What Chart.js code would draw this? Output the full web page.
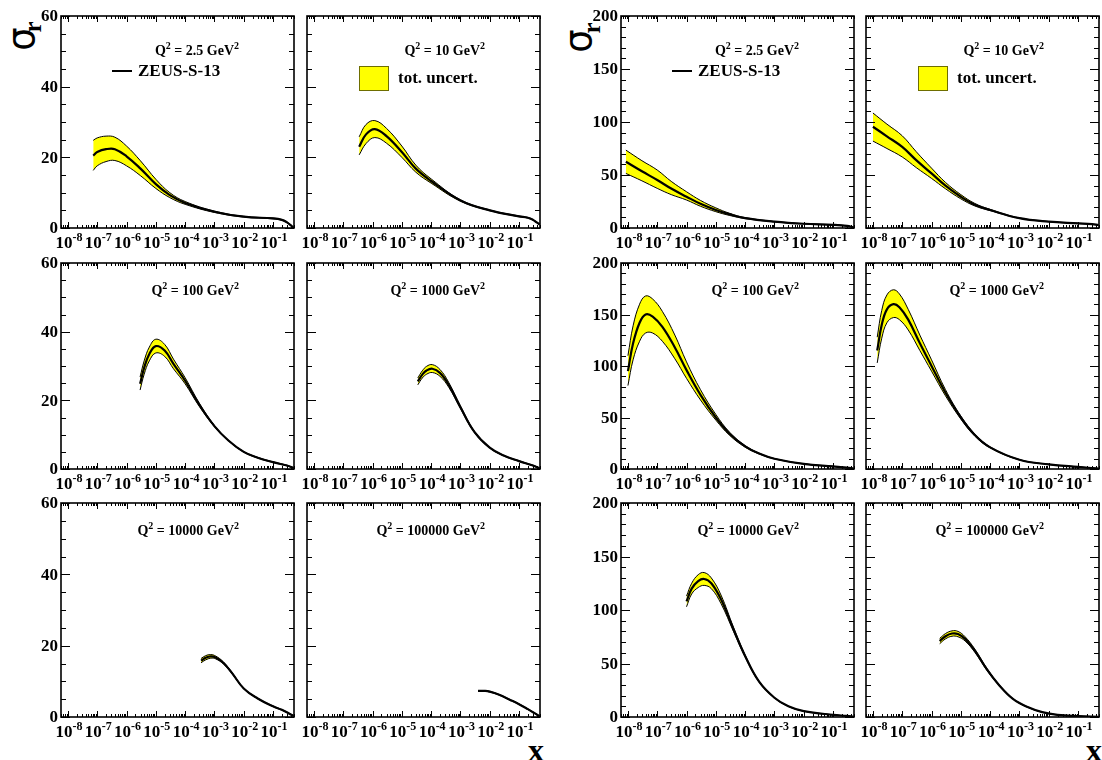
<!DOCTYPE html>
<html>
<head>
<meta charset="utf-8">
<title>sigma_r vs x</title>
<script src="https://cdn.jsdelivr.net/npm/chart.js@4.4.1/dist/chart.umd.min.js"></script>
<style>
  html, body { margin: 0; padding: 0; background: #fff; }
  #page { position: relative; width: 1102px; height: 760px; overflow: hidden; font-family: "Liberation Serif", "Times New Roman", serif; }
  #page canvas { position: absolute; }
  .sig { position: absolute; width: 40px; height: 40px; line-height: 40px; text-align: center;
         font-family: "DejaVu Sans", sans-serif; font-size: 37px; transform: rotate(-90deg); }
  .sub { position: absolute; width: 20px; height: 20px; line-height: 20px; text-align: center;
         font-family: "Liberation Serif", serif; font-weight: bold; font-size: 25px; transform: rotate(-90deg); }
  .xtitle { position: absolute; font-weight: bold; font-size: 32px; line-height: 32px; }
</style>
</head>
<body>
<div id="page">
  <div class="sig" style="left:2px;top:19px">σ</div>
  <div class="sub" style="left:23px;top:17px">r</div>
  <div class="sig" style="left:559px;top:21px">σ</div>
  <div class="sub" style="left:582px;top:18px">r</div>
  <div class="xtitle" style="left:528px;top:734px">x</div>
  <div class="xtitle" style="left:1086px;top:734px">x</div>
</div>
<script>
// axis labels
const xLabelPowers = [-8, -7, -6, -5, -4, -3, -2, -1];
const yTicksLeft = [0, 20, 40, 60];
const yTicksRight = [0, 50, 100, 150, 200];
const q2Values = ['2.5', '10', '100', '1000', '10000', '100000'];

// ---- left group (sigma_r up to 60) ----
// Q2 = 2.5
const xL1 = [7.3e-8, 1e-7, 2e-7, 4e-7, 1e-6, 3e-6, 1e-5, 3e-5, 1e-4, 1e-3, 1e-2, 0.1, 0.2, 0.3, 0.4, 0.5];
const cL1 = [20.5, 21.5, 22.3, 22.3, 20.3, 16.8, 12.4, 9.3, 7.1, 4.6, 3.2, 2.7, 2.3, 1.6, 0.8, 0.1];
const uL1 = [24.8, 25.5, 26.0, 25.7, 23.2, 19.0, 13.8, 10.0, 7.5, 4.8, 3.3, 2.8, 2.4, 1.7, 0.9, 0.2];
const lL1 = [16.3, 17.6, 18.8, 19.1, 17.6, 14.8, 11.2, 8.6, 6.7, 4.4, 3.1, 2.6, 2.2, 1.5, 0.7, 0.05];
// Q2 = 10
const xL2 = [3.5e-7, 6e-7, 1.2e-6, 3e-6, 1e-5, 3e-5, 1e-4, 1e-3, 1e-2, 0.1, 0.2, 0.3, 0.4, 0.5];
const cL2 = [23.0, 26.5, 28.0, 26.0, 21.5, 16.8, 13.3, 7.8, 5.0, 3.3, 2.9, 2.3, 1.6, 1.0];
const uL2 = [25.8, 29.3, 30.4, 28.2, 23.2, 17.8, 13.9, 8.0, 5.1, 3.4, 3.0, 2.4, 1.7, 1.1];
const lL2 = [20.7, 23.9, 25.6, 24.0, 20.0, 15.8, 12.7, 7.6, 4.9, 3.2, 2.8, 2.2, 1.5, 0.9];
// Q2 = 100
const xL3 = [2.9e-6, 4e-6, 6e-6, 1e-5, 2e-5, 4e-5, 1e-4, 3e-4, 1e-3, 3e-3, 1e-2, 3e-2, 0.1, 0.3, 0.5];
const cL3 = [24.8, 29.5, 33.5, 35.8, 34.5, 30.6, 25.7, 18.8, 12.5, 8.3, 5.0, 3.3, 2.0, 1.0, 0.3];
const uL3 = [26.8, 31.5, 35.5, 37.8, 36.3, 32.0, 26.6, 19.3, 12.7, 8.4, 5.1, 3.4, 2.1, 1.1, 0.4];
const lL3 = [23.0, 27.6, 31.5, 33.8, 32.8, 29.2, 24.8, 18.3, 12.3, 8.2, 4.9, 3.2, 1.9, 0.9, 0.2];
// Q2 = 1000
const xL4 = [3.5e-5, 5e-5, 7e-5, 1.1e-4, 2e-4, 4e-4, 1e-3, 3e-3, 1e-2, 3e-2, 0.1, 0.3, 0.5];
const cL4 = [25.5, 27.5, 28.7, 29.2, 28.0, 24.5, 18.0, 10.8, 6.2, 3.9, 2.3, 1.0, 0.2];
const uL4 = [26.5, 28.6, 29.9, 30.4, 29.0, 25.2, 18.4, 11.0, 6.3, 4.0, 2.4, 1.1, 0.3];
const lL4 = [24.5, 26.5, 27.6, 28.1, 27.0, 23.8, 17.6, 10.6, 6.1, 3.8, 2.2, 0.9, 0.1];
// Q2 = 10000
const xL5 = [3.5e-4, 5e-4, 7.5e-4, 1.1e-3, 2e-3, 4e-3, 1e-2, 3e-2, 0.1, 0.2, 0.35, 0.5];
const cL5 = [15.8, 16.6, 17.0, 16.7, 15.2, 12.3, 8.0, 5.2, 3.0, 2.0, 1.0, 0.3];
const uL5 = [16.4, 17.2, 17.5, 17.1, 15.5, 12.5, 8.1, 5.3, 3.1, 2.1, 1.1, 0.4];
const lL5 = [15.2, 16.0, 16.5, 16.3, 14.9, 12.1, 7.9, 5.1, 2.9, 1.9, 0.9, 0.2];
// Q2 = 100000
const xL6 = [4e-3, 7e-3, 1e-2, 2e-2, 5e-2, 0.1, 0.2, 0.35, 0.5];
const cL6 = [7.3, 7.3, 7.1, 6.3, 4.8, 3.6, 2.2, 1.0, 0.2];
const uL6 = [7.4, 7.4, 7.2, 6.4, 4.9, 3.7, 2.3, 1.1, 0.3];
const lL6 = [7.2, 7.2, 7.0, 6.2, 4.7, 3.5, 2.1, 0.9, 0.1];

// ---- right group (sigma_r up to 200) ----
// Q2 = 2.5
const xR1 = [8.5e-9, 3e-8, 1e-7, 3e-7, 1e-6, 3e-6, 1e-5, 3e-5, 1e-4, 1e-3, 1e-2, 0.1, 0.3, 0.5];
const cR1 = [62.5, 53.5, 45.3, 37.2, 29.5, 22.8, 17.0, 12.8, 9.3, 6.0, 4.0, 3.0, 2.0, 0.6];
const uR1 = [73.5, 63.5, 54.7, 44.0, 34.2, 26.0, 19.0, 13.8, 9.8, 6.2, 4.1, 3.1, 2.1, 0.7];
const lR1 = [51.5, 44.5, 37.4, 31.5, 26.4, 20.5, 15.4, 11.8, 8.9, 5.8, 3.9, 2.9, 1.9, 0.5];
// Q2 = 10
const xR2 = [1e-8, 3e-8, 1e-7, 3e-7, 1e-6, 3e-6, 1e-5, 3e-5, 1e-4, 1e-3, 1e-2, 0.1, 0.3, 0.5];
const cR2 = [95.5, 86.5, 76.5, 64.0, 51.5, 40.0, 29.5, 22.0, 17.0, 9.3, 6.0, 4.4, 3.6, 2.8];
const uR2 = [108.5, 98.0, 87.0, 72.0, 56.5, 43.0, 31.5, 23.2, 17.6, 9.5, 6.1, 4.5, 3.7, 2.9];
const lR2 = [82.0, 75.0, 67.0, 57.0, 46.8, 37.0, 27.5, 20.8, 16.4, 9.1, 5.9, 4.3, 3.5, 2.7];
// Q2 = 100
const xR3 = [1e-8, 1.5e-8, 2.5e-8, 4e-8, 7e-8, 1.5e-7, 4e-7, 1e-6, 3e-6, 1e-5, 3e-5, 1e-4, 3e-4, 1e-3, 1e-2, 0.1, 0.3, 0.5];
const cR3 = [95, 122, 142, 150, 148, 138, 118, 96, 72, 50, 34, 22, 15, 10, 5, 2.5, 1.3, 0.5];
const uR3 = [110, 139, 160, 168, 165, 153, 130, 104, 77, 53, 35.5, 22.8, 15.4, 10.2, 5.1, 2.6, 1.4, 0.6];
const lR3 = [81, 106, 124, 132, 132, 124, 107, 88, 67, 47.5, 32.5, 21.2, 14.6, 9.8, 4.9, 2.4, 1.2, 0.4];
// Q2 = 1000
const xR4 = [1.4e-8, 2e-8, 3e-8, 5e-8, 8e-8, 1.6e-7, 4e-7, 1e-6, 3e-6, 1e-5, 3e-5, 1e-4, 1e-3, 1e-2, 0.1, 0.5];
const cR4 = [115, 140, 155, 160, 157, 145, 122, 100, 74, 50, 33, 21, 9, 4.5, 2, 0.5];
const uR4 = [128, 154, 169, 174, 170, 155, 130, 106, 77, 51.5, 34, 21.5, 9.2, 4.6, 2.1, 0.6];
const lR4 = [103, 127, 142, 147, 145, 135, 115, 95, 71, 48.5, 32, 20.5, 8.8, 4.4, 1.9, 0.4];
// Q2 = 10000
const xR5 = [1e-6, 1.5e-6, 2.5e-6, 4e-6, 7e-6, 1.5e-5, 4e-5, 1e-4, 3e-4, 1e-3, 3e-3, 1e-2, 0.1, 0.3, 0.5];
const cR5 = [108, 120, 127, 129, 125, 110, 82, 57, 33, 18, 10, 5.5, 2, 1, 0.3];
const uR5 = [113, 125, 133, 135, 130, 114, 84, 58, 33.5, 18.3, 10.2, 5.6, 2.1, 1.1, 0.4];
const lR5 = [103, 115, 121, 123, 120, 106, 80, 56, 32.5, 17.7, 9.8, 5.4, 1.9, 0.9, 0.2];
// Q2 = 100000
const xR6 = [1.9e-6, 3e-6, 5e-6, 8e-6, 1.4e-5, 3e-5, 8e-5, 2e-4, 6e-4, 2e-3, 6e-3, 2e-2, 0.1, 0.5];
const cR6 = [71, 75.5, 78, 77.5, 73, 62, 44, 30, 17, 9, 4.5, 2, 0.8, 0.2];
const uR6 = [73.5, 78, 80.5, 80, 75, 63.5, 45, 30.5, 17.3, 9.2, 4.6, 2.1, 0.9, 0.3];
const lR6 = [68.5, 73, 75.5, 75, 71, 60.5, 43, 29.5, 16.7, 8.8, 4.4, 1.9, 0.7, 0.1];

// layout of the plot frames (pixels)
const colLeft = [61, 307, 621, 866];
const rowTop = [16, 263, 503];
const rowHeight = [212, 206, 214];
const plotWidth = 233;
const q2Offset = [34, 27, 27];
const pad = { left: 48, right: 12, top: 10, bottom: 40 };
const X_MIN = 5.8e-9, X_MAX = 0.52;

const panels = [
    { col: 0, row: 0, q2: q2Values[0], x: xL1, c: cL1, u: uL1, l: lL1, legend: 'line' },
    { col: 1, row: 0, q2: q2Values[1], x: xL2, c: cL2, u: uL2, l: lL2, legend: 'box' },
    { col: 0, row: 1, q2: q2Values[2], x: xL3, c: cL3, u: uL3, l: lL3 },
    { col: 1, row: 1, q2: q2Values[3], x: xL4, c: cL4, u: uL4, l: lL4 },
    { col: 0, row: 2, q2: q2Values[4], x: xL5, c: cL5, u: uL5, l: lL5 },
    { col: 1, row: 2, q2: q2Values[5], x: xL6, c: cL6, u: uL6, l: lL6 },
    { col: 2, row: 0, q2: q2Values[0], x: xR1, c: cR1, u: uR1, l: lR1, legend: 'line' },
    { col: 3, row: 0, q2: q2Values[1], x: xR2, c: cR2, u: uR2, l: lR2, legend: 'box' },
    { col: 2, row: 1, q2: q2Values[2], x: xR3, c: cR3, u: uR3, l: lR3 },
    { col: 3, row: 1, q2: q2Values[3], x: xR4, c: cR4, u: uR4, l: lR4 },
    { col: 2, row: 2, q2: q2Values[4], x: xR5, c: cR5, u: uR5, l: lR5 },
    { col: 3, row: 2, q2: q2Values[5], x: xR6, c: cR6, u: uR6, l: lR6 }
];

const BAND_YELLOW = '#ffff00';

// text with superscripts, parts = [{t, sup}]
function drawRich(ctx, parts, x, y, size, align) {
    const supSize = Math.round(size * 0.68);
    let total = 0;
    parts.forEach(pt => {
        ctx.font = `bold ${pt.sup ? supSize : size}px "Liberation Serif"`;
        pt.w = ctx.measureText(pt.t).width;
        total += pt.w;
    });
    let cx = align === 'center' ? x - total / 2 : (align === 'right' ? x - total : x);
    ctx.textAlign = 'left';
    ctx.textBaseline = 'alphabetic';
    parts.forEach(pt => {
        ctx.font = `bold ${pt.sup ? supSize : size}px "Liberation Serif"`;
        ctx.fillText(pt.t, cx, pt.sup ? y - size * 0.42 : y);
        cx += pt.w;
    });
}

function tick(ctx, x1, y1, x2, y2) {
    ctx.beginPath();
    ctx.moveTo(x1, y1);
    ctx.lineTo(x2, y2);
    ctx.stroke();
}

// ROOT-like frame: inward ticks, labels, Q2 text and legend
const rootFrame = {
    id: 'rootFrame',
    afterDraw(chart, args, opts) {
        const ctx = chart.ctx;
        const a = chart.chartArea;
        const xs = chart.scales.x, ys = chart.scales.y;
        ctx.save();
        ctx.strokeStyle = '#000';
        ctx.fillStyle = '#000';
        ctx.lineWidth = 1;

        // y ticks, left and right sides
        const yMax = opts.yTicks[opts.yTicks.length - 1];
        for (let v = 0; v <= yMax; v += opts.yMinor) {
            const y = Math.round(ys.getPixelForValue(v)) + 0.5;
            const len = opts.yTicks.includes(v) ? 9 : 5;
            tick(ctx, a.left, y, a.left + len, y);
            tick(ctx, a.right, y, a.right - len, y);
        }

        // x ticks (log), bottom and top
        for (let p = -9; p <= 0; p++) {
            for (let m = 1; m <= 9; m++) {
                const v = m * Math.pow(10, p);
                if (v < X_MIN || v > X_MAX) continue;
                const x = Math.round(xs.getPixelForValue(v)) + 0.5;
                const len = m === 1 ? 6 : 3;
                tick(ctx, x, a.bottom, x, a.bottom - len);
                tick(ctx, x, a.top, x, a.top + len);
            }
        }

        // frame
        ctx.lineWidth = 1.6;
        ctx.strokeRect(a.left, a.top, a.right - a.left, a.bottom - a.top);

        // y labels only on the first column of a group
        if (opts.yLabels) {
            ctx.font = 'bold 17px "Liberation Serif"';
            ctx.textAlign = 'right';
            ctx.textBaseline = 'middle';
            opts.yTicks.forEach(v => ctx.fillText(String(v), a.left - 3, ys.getPixelForValue(v) + 1));
        }

        // x labels 10^k
        xLabelPowers.forEach(p => {
            const x = xs.getPixelForValue(Math.pow(10, p));
            drawRich(ctx, [{ t: '10' }, { t: String(p), sup: true }], x + 1, a.bottom + 20, 17, 'center');
        });

        // Q2 label
        drawRich(ctx, [{ t: 'Q' }, { t: '2', sup: true }, { t: ' = ' + opts.q2 + ' GeV' }, { t: '2', sup: true }],
            a.left + 178, a.top + opts.q2Offset + 5, 14, 'right');

        // legend entries
        if (opts.legend === 'line') {
            ctx.lineWidth = 2;
            tick(ctx, a.left + 51, a.top + 55, a.left + 71, a.top + 55);
            ctx.font = 'bold 17px "Liberation Serif"';
            ctx.textAlign = 'left';
            ctx.textBaseline = 'middle';
            ctx.fillText('ZEUS-S-13', a.left + 77, a.top + 56);
        } else if (opts.legend === 'box') {
            ctx.fillStyle = BAND_YELLOW;
            ctx.fillRect(a.left + 52, a.top + 50, 30, 25);
            ctx.strokeStyle = '#6e6e00';
            ctx.lineWidth = 1;
            ctx.strokeRect(a.left + 52.5, a.top + 50.5, 29, 24);
            ctx.fillStyle = '#000';
            ctx.font = 'bold 17px "Liberation Serif"';
            ctx.textAlign = 'left';
            ctx.textBaseline = 'middle';
            ctx.fillText('tot. uncert.', a.left + 91, a.top + 63);
        }
        ctx.restore();
    }
};

function toPoints(xv, yv) {
    return xv.map((x, i) => ({ x: x, y: yv[i] }));
}

const page = document.getElementById('page');

panels.forEach(p => {
    const right = p.col >= 2;
    const L = colLeft[p.col], T = rowTop[p.row], H = rowHeight[p.row];
    const cv = document.createElement('canvas');
    cv.width = plotWidth + pad.left + pad.right;
    cv.height = H + pad.top + pad.bottom;
    cv.style.left = (L - pad.left) + 'px';
    cv.style.top = (T - pad.top) + 'px';
    page.appendChild(cv);

    const yTicks = right ? yTicksRight : yTicksLeft;

    new Chart(cv, {
        type: 'line',
        data: {
            datasets: [
                // band: upper edge filled down to the lower edge
                { data: toPoints(p.x, p.u), borderColor: '#000', borderWidth: 1, backgroundColor: BAND_YELLOW, fill: '+1', order: 3 },
                { data: toPoints(p.x, p.l), borderColor: '#000', borderWidth: 1, fill: false, order: 2 },
                // central curve drawn last
                { data: toPoints(p.x, p.c), borderColor: '#000', borderWidth: 2.2, fill: false, order: 1 }
            ]
        },
        options: {
            responsive: false,
            animation: false,
            devicePixelRatio: 1,
            events: [],
            layout: { padding: pad },
            elements: {
                point: { radius: 0 },
                line: { tension: 0.4 }
            },
            scales: {
                x: { type: 'logarithmic', min: X_MIN, max: X_MAX, display: false },
                y: { type: 'linear', min: 0, max: yTicks[yTicks.length - 1], display: false }
            },
            plugins: {
                legend: { display: false },
                tooltip: { enabled: false },
                rootFrame: {
                    yTicks: yTicks,
                    yMinor: right ? 10 : 5,
                    yLabels: p.col === 0 || p.col === 2,
                    q2: p.q2,
                    q2Offset: q2Offset[p.row],
                    legend: p.legend
                }
            }
        },
        plugins: [rootFrame]
    });
});
</script>
</body>
</html>
